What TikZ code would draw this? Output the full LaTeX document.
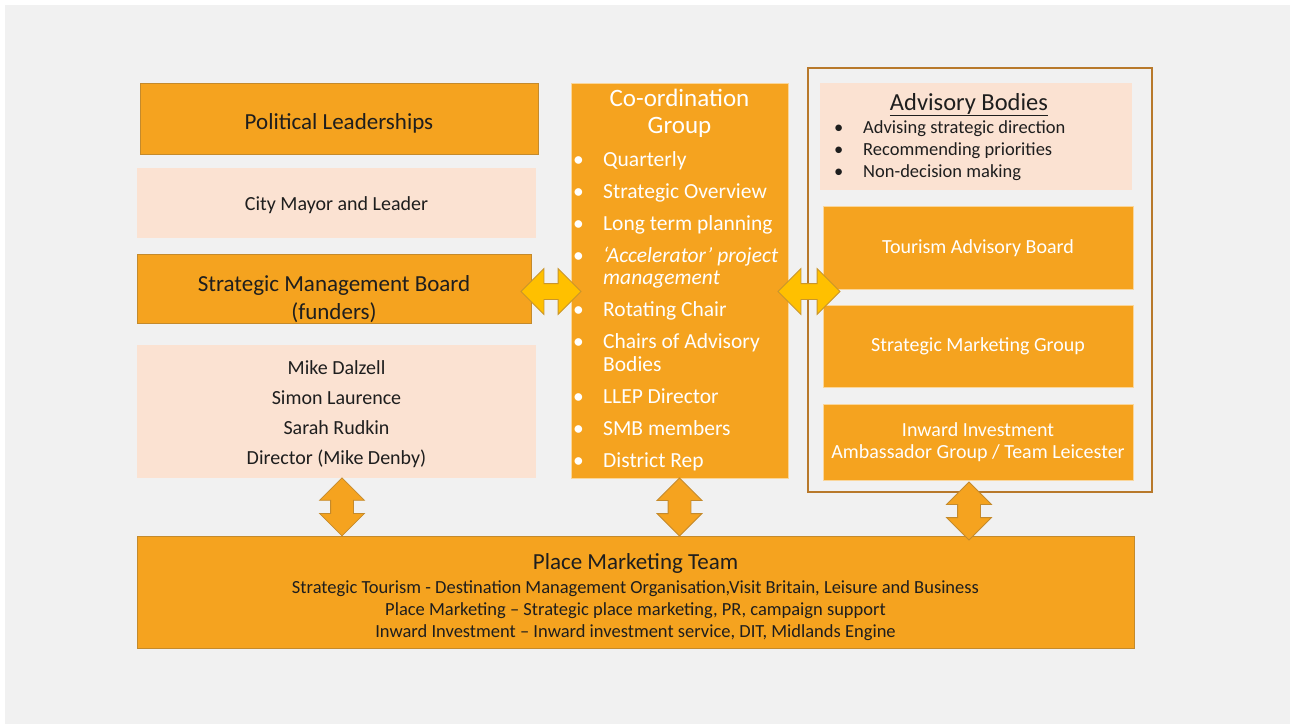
\documentclass[tikz,border=0pt]{standalone}
\usepackage{fontspec}
\setmainfont{Carlito}
\usepackage{tikz}
\usetikzlibrary{positioning,calc,shapes.arrows}

\definecolor{panelgrey}{HTML}{F1F1F1}
\definecolor{boxorange}{HTML}{F5A31F}
\definecolor{boxedge}{HTML}{C48A2C}
\definecolor{peach}{HTML}{FBE2D2}
\definecolor{framebrown}{HTML}{B8792B}
\definecolor{linkyellow}{HTML}{FFC000}
\definecolor{linkedge}{HTML}{C9952C}
\definecolor{inkdark}{HTML}{1E1E1E}

\newcommand\hdfont{\fontsize{23}{28}\selectfont}
\newcommand\bdfont{\fontsize{20}{30}\selectfont}
\newcommand\lsfont{\fontsize{21.5}{22.5}\selectfont}
\newcommand\ntfont{\fontsize{18.5}{22}\selectfont}
\newcommand\tmfont{\fontsize{18.5}{22}\selectfont}

\begin{document}
\begin{tikzpicture}[
    x=1pt, y=-1pt,
    every node/.style={inner sep=0pt, text=inkdark},
    darkbox/.style={draw=boxedge, fill=boxorange, line width=1pt},
    paper/.style={fill=peach},
    whitebox/.style={draw=white!55!boxorange, fill=boxorange, line width=1pt, text=white},
    outline/.style={draw=framebrown, line width=2.4pt},
    sidelink/.style={double arrow, double arrow tip angle=90, double arrow head extend=15pt,
        inner xsep=0pt, inner ysep=7.5pt, minimum height=60pt,
        fill=linkyellow, draw=linkedge, line width=0.8pt},
    uplink/.style={double arrow, double arrow tip angle=90, double arrow head extend=11pt,
        inner xsep=0pt, inner ysep=11pt, minimum height=58pt,
        fill=boxorange, draw=boxedge, line width=0.8pt, rotate=90}
  ]
  % panel
  \fill[white] (0,0) rectangle (1290,724);
  \fill[panelgrey] (5,5) rectangle (1290,724);

  % left column
  \node[darkbox, minimum width=398pt, minimum height=71pt, font=\hdfont, text height=26pt, text depth=5pt] (pol) at (339,118.5) {Political Leaderships};
  \node[paper, minimum width=399pt, minimum height=70pt, font=\bdfont, text height=18pt, text depth=4pt] (mayor) at (336.5,203) {City Mayor and Leader};
  \node[darkbox, minimum width=394pt, minimum height=69pt] (smb) at (334,288.5) {};
  \node[font=\hdfont, align=center] (smbtext) at ([yshift=-11pt]smb.center) {Strategic Management Board\\(funders)};
  \node[paper, minimum width=399pt, minimum height=133pt] (names) at (336.5,411.5) {};
  \node[font=\bdfont, align=center] (nametext) at ([yshift=-3pt]names.center)
    {Mike Dalzell\\Simon Laurence\\Sarah Rudkin\\Director (Mike Denby)};

  % co-ordination group
  \node[whitebox, minimum width=217pt, minimum height=395pt] (coord) at (679.5,280.5) {};
  \node[text=white, font=\fontsize{25}{27}\selectfont, align=center, anchor=north] (coordhead)
    at ([yshift=-6pt]coord.north) {Co-ordination\\Group};
  \node[text=white, font=\lsfont, anchor=base west] (coordlist) at (573,166) {%
    \begin{tabular}[t]{@{}p{30pt}@{}l@{}}
      • & Quarterly\\[9.5pt]
      • & Strategic Overview\\[9.5pt]
      • & Long term planning\\[9.5pt]
      • & \textit{‘Accelerator’ project}\\
        & \textit{management}\\[9.5pt]
      • & Rotating Chair\\[9.5pt]
      • & Chairs of Advisory\\
        & Bodies\\[9.5pt]
      • & LLEP Director\\[9.5pt]
      • & SMB members\\[9.5pt]
      • & District Rep
    \end{tabular}};

  % advisory bodies
  \node[outline, minimum width=344pt, minimum height=424pt] (frame) at (980,280) {};
  \node[paper, minimum width=312pt, minimum height=107pt] (advb) at (976,136.5) {};
  \node[font=\fontsize{24.5}{26}\selectfont, anchor=base] (advhead) at (969,110) {\underline{Advisory Bodies}};
  \node[font=\ntfont, anchor=base west] (advlist) at (834,133) {%
    \begin{tabular}[t]{@{}p{29pt}@{}l@{}}
      • & Advising strategic direction\\
      • & Recommending priorities\\
      • & Non-decision making
    \end{tabular}};
  \node[whitebox, minimum width=310pt, minimum height=83pt, font=\bdfont, text height=16pt, text depth=4pt] (tab) at (978,247.5) {Tourism Advisory Board};
  \node[whitebox, minimum width=310pt, minimum height=82pt, font=\bdfont, below=15pt of tab] (smg) {Strategic Marketing Group};
  \node[whitebox, minimum width=310pt, minimum height=76pt, font=\fontsize{20}{22}\selectfont, align=center, below=16pt of smg] (inv)
    {Inward Investment\\Ambassador Group / Team Leicester};

  % place marketing team
  \node[darkbox, minimum width=997pt, minimum height=112pt] (pmt) at (635.5,592) {};
  \node[font=\tmfont, align=center] (pmttext) at ([yshift=-5.5pt]pmt.center)
    {{\fontsize{23}{25}\selectfont Place Marketing Team}\\[2pt]
     Strategic Tourism - Destination Management Organisation,Visit Britain, Leisure and Business\\
     Place Marketing – Strategic place marketing, PR, campaign support\\
     Inward Investment – Inward investment service, DIT, Midlands Engine};

  % links
  \node[sidelink] (smblink) at ($(smb.east)!0.5!(coord.west |- smb.east)+(0,3)$) {};
  \node[sidelink, minimum height=62pt] (advlink) at ($(coord.east |- smb.east)!0.5!(tab.west |- smb.east)+(3.5,3)$) {};
  \node[uplink] (mayorlink) at ($(names.south)!0.5!(names.south |- pmt.north)+(5.5,0)$) {};
  \node[uplink] (coordlink) at ($(coord.south)!0.5!(coord.south |- pmt.north)$) {};
  \node[uplink] (advdown) at ($(inv.south)!0.5!(inv.south |- pmt.north)+(-9,3)$) {};
\end{tikzpicture}
\end{document}
